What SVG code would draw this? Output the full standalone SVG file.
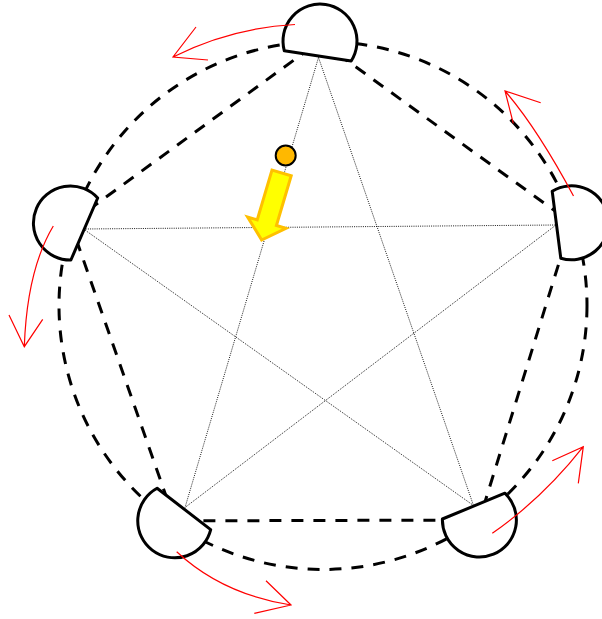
<svg xmlns="http://www.w3.org/2000/svg" width="602" height="619" viewBox="0 0 602 619">
<style>
.dash{fill:none;stroke:#000;stroke-width:3;stroke-dasharray:12 10}
.dot{fill:none;stroke:#000;stroke-width:0.9;stroke-dasharray:1 1.2}
.node{fill:#fff;stroke:#000;stroke-width:3;stroke-linejoin:round}
.red{fill:none;stroke:#ff0000;stroke-width:1.2}
</style>
<rect width="602" height="619" fill="#fff"/>
<g id="connectors">
<circle class="dash" cx="323" cy="305.5" r="264"/>
<path class="dash" d="M320 41 L571.4 222.8 M571.4 222.8 L479.4 520 M479.4 520 L174.7 520.9 M174.7 520.9 L70.5 223 M70.5 223 L320 41"/>
<path class="dot" d="M318.5 57.5 L185 507.5 M318.5 57.5 L473.5 505.5 M83.5 229 L556 225 M83.5 229 L473.5 505.5 M556 225 L185 507.5"/>
</g>
<g id="node-top"><path class="node" d="M284.3 50.8 A37 37 0 1 1 351.2 61 Z"/></g>
<g id="node-right"><path class="node" d="M552.2 191.2 A37 37 0 1 1 560.8 258.2 Z"/></g>
<g id="node-bottom-right"><path class="node" d="M504.9 493.2 A37 37 0 1 1 442.4 519 Z"/></g>
<g id="node-bottom-left"><path class="node" d="M210.7 529.6 A37 37 0 1 1 157.1 488.3 Z"/></g>
<g id="node-left"><path class="node" d="M70.9 260 A37 37 0 1 1 97.7 198 Z"/></g>
<g id="marker">
<polygon points="261.7,240 286,228.4 276.4,225.5 291.2,175.7 272,170.1 257.2,219.9 247.6,217" fill="#ffff00" stroke="#ffc000" stroke-width="3" stroke-linejoin="miter"/>
<circle cx="285.7" cy="155.5" r="10" fill="#ffb800" stroke="#000" stroke-width="2"/>
</g>
<g id="rotation-arrows">
<path class="red" d="M295 24.5 Q230 28 173 57 M196 27 L173 57 L208 60"/>
<path class="red" d="M573.5 196 Q537 128 505 91 M540.7 102.7 L505 91 L513.3 123.3"/>
<path class="red" d="M492.3 533.3 Q543 498 583.3 446.7 M552.3 460.7 L583.3 446.7 L578.3 483.3"/>
<path class="red" d="M176.7 551.7 Q222 594 291 605 M266 580.7 L291 605 L254.3 613.3"/>
<path class="red" d="M53.3 226 Q27 270 24.3 346.7 M9 315 L24.3 346.7 L42.7 319.3"/>
</g>
</svg>
